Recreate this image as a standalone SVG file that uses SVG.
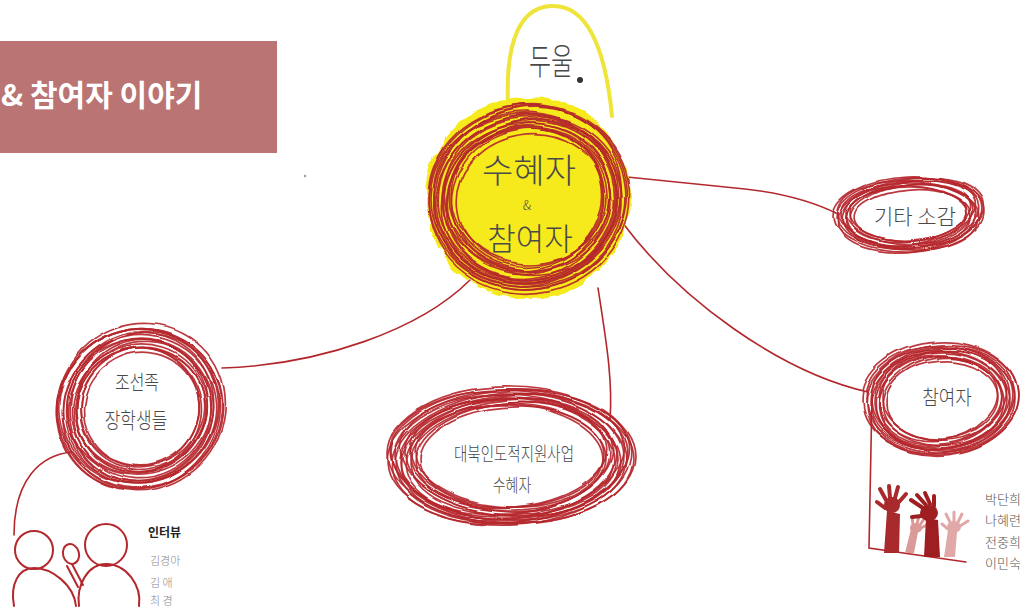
<svg xmlns="http://www.w3.org/2000/svg" width="1025" height="608" viewBox="0 0 1025 608">
  <defs>
    <filter id="wobble" x="-10%" y="-10%" width="120%" height="120%">
      <feTurbulence type="fractalNoise" baseFrequency="0.018" numOctaves="2" seed="3" result="n"/>
      <feDisplacementMap in="SourceGraphic" in2="n" scale="7" xChannelSelector="R" yChannelSelector="G"/>
    </filter>
    <filter id="rough" x="-15%" y="-15%" width="130%" height="130%">
      <feTurbulence type="fractalNoise" baseFrequency="0.05" numOctaves="3" seed="7" result="n"/>
      <feDisplacementMap in="SourceGraphic" in2="n" scale="10" xChannelSelector="R" yChannelSelector="G"/>
    </filter>
  </defs>
  <style>
    .scr ellipse { fill: none; stroke: #b5262b; stroke-width: 1.7; opacity: 0.9; }
    .link { fill: none; stroke: #b3282d; stroke-width: 1.6; stroke-linecap: round; }
    .hand { font-family: "Noto Sans CJK KR", "Noto Sans", sans-serif; font-weight: 300; fill: #4a4a4a; text-anchor: middle; }
    .title { font-family: "Noto Sans CJK KR", "Noto Sans", sans-serif; font-weight: 700; fill: #ffffff; font-size: 30px; }
    .person { fill: none; stroke: #b3282d; stroke-width: 2; stroke-linecap: round; }
  </style>
  <rect width="1025" height="608" fill="#ffffff"/>

  <!-- title banner -->
  <g id="title">
    <rect x="0" y="41" width="277" height="112" fill="#b97473"/>
    <text class="title" x="1" y="106">&amp; 참여자 이야기</text>
  </g>

  <circle cx="305" cy="176" r="1.2" fill="#999"/>

  <!-- connectors -->
  <g id="connectors">
    <path class="link" d="M627,177 L745,189 Q800,195 838,214"/>
    <path class="link" d="M622,222 C680,300 780,372 868,392"/>
    <path class="link" d="M598,288 C606,340 613,380 610,420"/>
    <path class="link" d="M470,280 C420,330 320,365 222,368"/>
    <path class="link" d="M72,452 C40,455 14,480 14,535"/>
    <path class="link" d="M872,396 L869,548 L966,562"/>
  </g>

  <!-- central node -->
  <g id="node-center">
    <path d="M508,105 C506,60 512,8 551,6 C590,4 606,55 612,116" fill="none" stroke="#eee43a" stroke-width="4" stroke-linecap="round"/>
    <text class="hand" transform="translate(551,75) scale(1,1.5)" font-size="24">두울</text>
    <circle cx="580" cy="80" r="3" fill="#333"/>
    <ellipse cx="528" cy="198" rx="102" ry="101" fill="#f6ea1a" filter="url(#rough)"/>
    <g class="scr" filter="url(#wobble)">
      <ellipse cx="530" cy="200" rx="74" ry="66" transform="rotate(-10 530 200)"/>
      <ellipse cx="527" cy="199" rx="76" ry="70" transform="rotate(-20 527 199)"/>
      <ellipse cx="529" cy="196" rx="78" ry="68"/>
      <ellipse cx="526" cy="200" rx="79" ry="73" transform="rotate(-14 526 200)"/>
      <ellipse cx="530" cy="198" rx="81" ry="72" transform="rotate(6 530 198)"/>
      <ellipse cx="528" cy="201" rx="83" ry="76" transform="rotate(-25 528 201)"/>
      <ellipse cx="526" cy="197" rx="84" ry="74" transform="rotate(-5 526 197)"/>
      <ellipse cx="529" cy="200" rx="86" ry="79" transform="rotate(-16 529 200)"/>
      <ellipse cx="531" cy="196" rx="87" ry="78" transform="rotate(10 531 196)"/>
      <ellipse cx="527" cy="198" rx="89" ry="82" transform="rotate(-8 527 198)"/>
      <ellipse cx="530" cy="201" rx="90" ry="80" transform="rotate(-22 530 201)"/>
      <ellipse cx="525" cy="197" rx="92" ry="85" transform="rotate(2 525 197)"/>
      <ellipse cx="529" cy="199" rx="93" ry="84" transform="rotate(-12 529 199)"/>
      <ellipse cx="528" cy="196" rx="95" ry="88" transform="rotate(-30 528 196)"/>
      <ellipse cx="526" cy="200" rx="96" ry="86" transform="rotate(4 526 200)"/>
      <ellipse cx="530" cy="198" rx="98" ry="90" transform="rotate(-18 530 198)"/>
      <ellipse cx="527" cy="197" rx="99" ry="92" transform="rotate(-6 527 197)"/>
      <ellipse cx="529" cy="199" rx="101" ry="94" transform="rotate(-12 529 199)"/>
    </g>
    <text class="hand" x="529" y="183" font-size="34" fill="#333">수혜자</text>
    <text class="hand" x="527" y="210" font-size="13">&amp;</text>
    <text class="hand" x="530" y="250" font-size="31" fill="#333">참여자</text>
  </g>

  <!-- 기타 소감 -->
  <g id="node-etc">
    <g class="scr" filter="url(#wobble)">
      <ellipse cx="911" cy="215" rx="56" ry="25" transform="rotate(-4 911 215)"/>
      <ellipse cx="909" cy="214" rx="58" ry="27"/>
      <ellipse cx="911" cy="213" rx="60" ry="28" transform="rotate(-7 911 213)"/>
      <ellipse cx="909" cy="215" rx="62" ry="29" transform="rotate(2 909 215)"/>
      <ellipse cx="910" cy="215" rx="63" ry="30" transform="rotate(-5 910 215)"/>
      <ellipse cx="911" cy="213" rx="65" ry="31" transform="rotate(-9 911 213)"/>
      <ellipse cx="909" cy="215" rx="67" ry="32"/>
      <ellipse cx="911" cy="214" rx="68" ry="33" transform="rotate(-6 911 214)"/>
      <ellipse cx="909" cy="215" rx="70" ry="34" transform="rotate(3 909 215)"/>
      <ellipse cx="910" cy="213" rx="72" ry="35" transform="rotate(-4 910 213)"/>
      <ellipse cx="911" cy="215" rx="73" ry="36" transform="rotate(-8 911 215)"/>
      <ellipse cx="909" cy="214" rx="75" ry="37" transform="rotate(-2 909 214)"/>
    </g>
    <text class="hand" x="915" y="224" font-size="21">기타 소감</text>
  </g>

  <!-- 조선족 장학생들 -->
  <g id="node-students">
    <g class="scr" filter="url(#wobble)">
      <ellipse cx="141" cy="409" rx="58" ry="55" transform="rotate(-30 141 409)"/>
      <ellipse cx="139" cy="408" rx="60" ry="58" transform="rotate(-45 139 408)"/>
      <ellipse cx="142" cy="407" rx="62" ry="58" transform="rotate(-20 142 407)"/>
      <ellipse cx="138" cy="410" rx="63" ry="61" transform="rotate(-35 138 410)"/>
      <ellipse cx="140" cy="409" rx="65" ry="60" transform="rotate(-15 140 409)"/>
      <ellipse cx="141" cy="406" rx="67" ry="64" transform="rotate(-50 141 406)"/>
      <ellipse cx="139" cy="409" rx="68" ry="63" transform="rotate(-25 139 409)"/>
      <ellipse cx="142" cy="410" rx="70" ry="66" transform="rotate(-40 142 410)"/>
      <ellipse cx="138" cy="407" rx="72" ry="67" transform="rotate(-10 138 407)"/>
      <ellipse cx="140" cy="410" rx="73" ry="70" transform="rotate(-30 140 410)"/>
      <ellipse cx="141" cy="407" rx="75" ry="70" transform="rotate(-55 141 407)"/>
      <ellipse cx="139" cy="409" rx="77" ry="73" transform="rotate(-20 139 409)"/>
      <ellipse cx="142" cy="408" rx="78" ry="73" transform="rotate(-35 142 408)"/>
      <ellipse cx="138" cy="406" rx="80" ry="76" transform="rotate(-25 138 406)"/>
      <ellipse cx="141" cy="410" rx="81" ry="76" transform="rotate(-45 141 410)"/>
      <ellipse cx="140" cy="408" rx="83" ry="79" transform="rotate(-15 140 408)"/>
      <ellipse cx="139" cy="409" rx="84" ry="79" transform="rotate(-30 139 409)"/>
      <ellipse cx="141" cy="407" rx="86" ry="82" transform="rotate(-40 141 407)"/>
    </g>
    <text class="hand" transform="translate(137,390) scale(1,1.3)" font-size="16">조선족</text>
    <text class="hand" transform="translate(136,428) scale(1,1.3)" font-size="17">장학생들</text>
  </g>

  <!-- 대북인도적지원사업 수혜자 -->
  <g id="node-aid">
    <g class="scr" filter="url(#wobble)">
      <ellipse cx="512" cy="457" rx="92" ry="50" transform="rotate(-2 512 457)"/>
      <ellipse cx="509" cy="456" rx="94" ry="51" transform="rotate(3 509 456)"/>
      <ellipse cx="511" cy="455" rx="96" ry="52" transform="rotate(-5 511 455)"/>
      <ellipse cx="508" cy="457" rx="98" ry="53" transform="rotate(1 508 457)"/>
      <ellipse cx="510" cy="458" rx="100" ry="55" transform="rotate(-4 510 458)"/>
      <ellipse cx="512" cy="455" rx="102" ry="56" transform="rotate(4 512 455)"/>
      <ellipse cx="509" cy="457" rx="104" ry="57" transform="rotate(-6 509 457)"/>
      <ellipse cx="511" cy="456" rx="106" ry="58" transform="rotate(2 511 456)"/>
      <ellipse cx="508" cy="458" rx="108" ry="59" transform="rotate(-3 508 458)"/>
      <ellipse cx="510" cy="455" rx="110" ry="60" transform="rotate(5 510 455)"/>
      <ellipse cx="512" cy="457" rx="112" ry="61" transform="rotate(-7 512 457)"/>
      <ellipse cx="509" cy="456" rx="114" ry="62"/>
      <ellipse cx="511" cy="458" rx="116" ry="63" transform="rotate(-4 511 458)"/>
      <ellipse cx="508" cy="455" rx="118" ry="64" transform="rotate(3 508 455)"/>
      <ellipse cx="510" cy="457" rx="119" ry="65" transform="rotate(-6 510 457)"/>
      <ellipse cx="512" cy="456" rx="121" ry="66" transform="rotate(2 512 456)"/>
      <ellipse cx="509" cy="457" rx="122" ry="67" transform="rotate(-3 509 457)"/>
      <ellipse cx="511" cy="455" rx="124" ry="68" transform="rotate(1 511 455)"/>
    </g>
    <text class="hand" transform="translate(514,461) scale(1,1.3)" font-size="14.5">대북인도적지원사업</text>
    <text class="hand" transform="translate(512,492) scale(1,1.3)" font-size="14">수혜자</text>
  </g>

  <!-- 참여자 -->
  <g id="node-participants">
    <g class="scr" filter="url(#wobble)">
      <ellipse cx="942" cy="400" rx="56" ry="39" transform="rotate(-4 942 400)"/>
      <ellipse cx="940" cy="399" rx="58" ry="41" transform="rotate(-10 940 399)"/>
      <ellipse cx="942" cy="398" rx="60" ry="42" transform="rotate(2 942 398)"/>
      <ellipse cx="940" cy="400" rx="62" ry="44" transform="rotate(-7 940 400)"/>
      <ellipse cx="941" cy="400" rx="63" ry="45" transform="rotate(4 941 400)"/>
      <ellipse cx="942" cy="398" rx="65" ry="47" transform="rotate(-12 942 398)"/>
      <ellipse cx="940" cy="400" rx="67" ry="48" transform="rotate(-2 940 400)"/>
      <ellipse cx="942" cy="399" rx="68" ry="49" transform="rotate(-8 942 399)"/>
      <ellipse cx="940" cy="400" rx="70" ry="50" transform="rotate(3 940 400)"/>
      <ellipse cx="941" cy="398" rx="72" ry="51" transform="rotate(-5 941 398)"/>
      <ellipse cx="942" cy="400" rx="73" ry="52" transform="rotate(-10 942 400)"/>
      <ellipse cx="940" cy="399" rx="75" ry="53"/>
      <ellipse cx="942" cy="400" rx="77" ry="55" transform="rotate(-6 942 400)"/>
      <ellipse cx="940" cy="398" rx="79" ry="56" transform="rotate(-3 940 398)"/>
    </g>
    <text class="hand" transform="translate(947,405) scale(1,1.15)" font-size="18">참여자</text>
  </g>

  <!-- raised hands -->
  <g id="hands" stroke-linecap="round">
    <g fill="#a82a2c" stroke="#a82a2c">
      <path d="M884,553 L899,553 L900,514 L887,511 Z" stroke="none"/>
      <ellipse cx="892" cy="505" rx="8" ry="8" stroke="none"/>
      <line x1="886" y1="500" x2="880" y2="489" stroke-width="4"/>
      <line x1="890" y1="498" x2="889" y2="486" stroke-width="4"/>
      <line x1="895" y1="498" x2="898" y2="487" stroke-width="4"/>
      <line x1="899" y1="502" x2="906" y2="494" stroke-width="4"/>
      <line x1="885" y1="508" x2="877" y2="502" stroke-width="4"/>
    </g>
    <g fill="#d99a98" stroke="#d99a98">
      <path d="M905,553 L914,553 L918,532 L911,529 Z" stroke="none"/>
      <ellipse cx="916" cy="528" rx="6" ry="5" stroke="none"/>
      <line x1="917" y1="524" x2="919" y2="516" stroke-width="3"/>
      <line x1="920" y1="525" x2="924" y2="519" stroke-width="3"/>
      <line x1="921" y1="528" x2="927" y2="525" stroke-width="3"/>
      <line x1="913" y1="524" x2="912" y2="517" stroke-width="3"/>
    </g>
    <g fill="#9e1e22" stroke="#9e1e22">
      <path d="M924,557 L940,557 L938,520 L926,518 Z" stroke="none"/>
      <ellipse cx="929" cy="513" rx="9" ry="8" stroke="none"/>
      <line x1="923" y1="508" x2="911" y2="500" stroke-width="4"/>
      <line x1="926" y1="505" x2="917" y2="495" stroke-width="4"/>
      <line x1="930" y1="504" x2="925" y2="493" stroke-width="4"/>
      <line x1="934" y1="506" x2="934" y2="496" stroke-width="4"/>
      <line x1="922" y1="516" x2="912" y2="517" stroke-width="4"/>
    </g>
    <g fill="#e0a8a6" stroke="#e0a8a6">
      <path d="M944,557 L955,557 L957,532 L948,530 Z" stroke="none"/>
      <ellipse cx="954" cy="527" rx="7" ry="6" stroke="none"/>
      <line x1="950" y1="522" x2="946" y2="514" stroke-width="3"/>
      <line x1="954" y1="521" x2="954" y2="512" stroke-width="3"/>
      <line x1="958" y1="522" x2="962" y2="514" stroke-width="3"/>
      <line x1="960" y1="526" x2="968" y2="521" stroke-width="3"/>
      <line x1="948" y1="529" x2="942" y2="524" stroke-width="3"/>
    </g>
  </g>

  <g id="participant-names" font-family="'Noto Sans CJK KR', 'Noto Sans', sans-serif" font-weight="300" font-size="13" fill="#555">
    <text x="985" y="504">박단희</text>
    <text x="985" y="525">나혜련</text>
    <text x="985" y="547">전중희</text>
    <text x="985" y="568">이민숙</text>
  </g>

  <!-- interview figures -->
  <g id="interview">
    <circle class="person" cx="34" cy="550" r="19"/>
    <circle class="person" cx="106" cy="545" r="21"/>
    <path class="person" d="M14,606 C10,585 18,568 34,568 C52,568 74,585 76,606"/>
    <path class="person" d="M79,606 C76,585 88,564 106,564 C126,564 142,585 139,606"/>
    <ellipse class="person" cx="71" cy="554" rx="8" ry="10" transform="rotate(-15 71 554)"/>
    <path class="person" d="M72,564 L83,585 M67,566 L78,587"/>
    <text x="148" y="537" font-family="'Noto Sans CJK KR', 'Noto Sans', sans-serif" font-weight="700" font-size="12" fill="#222">인터뷰</text>
    <g font-family="'Noto Sans CJK KR', 'Noto Sans', sans-serif" font-weight="300" font-size="11" fill="#888">
      <text x="150" y="565">김경아</text>
      <text x="150" y="587">김 애</text>
      <text x="150" y="605">최 경</text>
    </g>
  </g>
</svg>
